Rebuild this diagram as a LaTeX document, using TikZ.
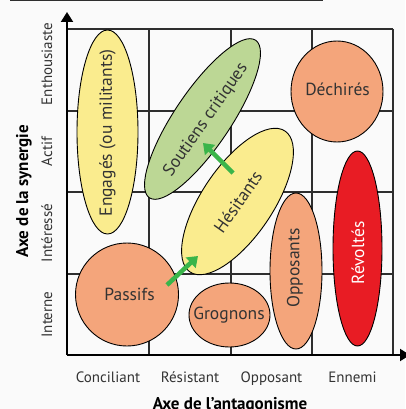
\documentclass[tikz,border=0pt]{standalone}
\usepackage{fontspec}
\setmainfont{PT Sans}
\usetikzlibrary{arrows.meta}
\definecolor{bgc}{HTML}{FAFAFA}
\definecolor{gridc}{HTML}{2E2E2E}
\definecolor{salmon}{HTML}{F4A57B}
\definecolor{pyellow}{HTML}{FAEC8E}
\definecolor{pgreen}{HTML}{BCD795}
\definecolor{pred}{HTML}{E81C24}
\definecolor{agreen}{HTML}{3AB54A}
\definecolor{txt}{HTML}{333333}
\tikzset{
  gridline/.style={gridc, line width=1.1pt},
  axisline/.style={black, line width=2pt},
  blob/.style={draw=black, line width=0.9pt},
  biglabel/.style={text=txt, inner sep=0pt, font=\fontsize{17.5}{20}\selectfont},
  ticklabel/.style={text=txt, inner sep=0pt, anchor=base, font=\fontsize{15}{18}\selectfont},
  axistitle/.style={text=black, inner sep=0pt, anchor=base, font=\fontsize{17}{20}\selectfont\bfseries},
  growarrow/.style={agreen, line width=4.5pt, -{Triangle[length=10pt,width=14pt]}}
}
\begin{document}
\begin{tikzpicture}[x=1pt,y=1pt]
\useasboundingbox (0,0) rectangle (405,-409);
\fill[bgc] (0,0) rectangle (405,-409);
% top rule
\draw[gridc, line width=1pt] (10,-0.6) -- (323,-0.6);
% grid
\foreach \x in {149,231,312,393} \draw[gridline] (\x,-29) -- (\x,-355);
\foreach \y in {29,111,192,274} \draw[gridline] (67,-\y) -- (393,-\y);
% shapes
\draw[blob, fill=pyellow] (107.5,-132) ellipse [x radius=30.5, y radius=102];
\draw[blob, fill=pgreen, rotate around={56:(202.5,-119)}] (202.5,-119) ellipse [x radius=95, y radius=28];
\draw[blob, fill=pyellow, rotate around={56:(237.5,-201.5)}] (237.5,-201.5) ellipse [x radius=85, y radius=35.5];
\draw[blob, fill=salmon] (337,-91.5) ellipse [x radius=46, y radius=50.5];
\draw[blob, fill=salmon] (127,-294.5) circle [radius=51.5];
\draw[blob, fill=salmon] (229.5,-315) ellipse [x radius=40.5, y radius=32];
\draw[blob, fill=salmon] (296,-271) ellipse [x radius=26, y radius=78];
\draw[blob, fill=pred] (357.5,-248.5) ellipse [x radius=24.5, y radius=97.5];
% labels
\node[biglabel, rotate=90] (engages) at (107.5,-133) {Engagés (ou militants)};
\node[biglabel, rotate=55] (soutiens) at (206,-120) {Soutiens critiques};
\node[biglabel, rotate=55] (hesitants) at (238,-202) {Hésitants};
\node[biglabel] (dechires) at (337.5,-89) {Déchirés};
\node[biglabel] (passifs) at (129.5,-294) {Passifs};
\node[biglabel] (grognons) at (229,-315) {Grognons};
\node[biglabel, rotate=90] (opposants) at (295,-268) {Opposants};
\node[biglabel, rotate=90, text=white] (revoltes) at (358,-253) {Révoltés};
% arrows
\coordinate (a1s) at (167,-285);
\coordinate (a1e) at (198,-256);
\coordinate (a2s) at (233,-173);
\coordinate (a2e) at (203,-143);
\draw[growarrow] (a1s) -- (a1e);
\draw[growarrow] (a2s) -- (a2e);
% axes
\coordinate (origin) at (67,-355);
\coordinate (ytip) at (67,-12);
\coordinate (xtip) at (410,-355);
\draw[axisline, -{Triangle[length=10pt,width=12pt]}] (origin) -- (ytip);
\draw[axisline, -{Triangle[length=10pt,width=12pt]}] (origin) -- (xtip);
% tick labels
\node[ticklabel] (conciliant) at (108,-382) {Conciliant};
\node[ticklabel] (resistant) at (190,-382) {Résistant};
\node[ticklabel] (opposant) at (271.5,-382) {Opposant};
\node[ticklabel] (ennemi) at (352.5,-382) {Ennemi};
\node[ticklabel, rotate=90] (interne) at (52,-314.5) {Interne};
\node[ticklabel, rotate=90] (interesse) at (52,-233) {Intéressé};
\node[ticklabel, rotate=90] (actif) at (52,-151.5) {Actif};
\node[ticklabel, rotate=90] (enthousiaste) at (52,-64) {Enthousiaste};
% axis titles
\node[axistitle] (xtitle) at (230,-409.5) {Axe de l’antagonisme};
\node[axistitle, rotate=90] (ytitle) at (28,-191) {Axe de la synergie};
\end{tikzpicture}
\end{document}
